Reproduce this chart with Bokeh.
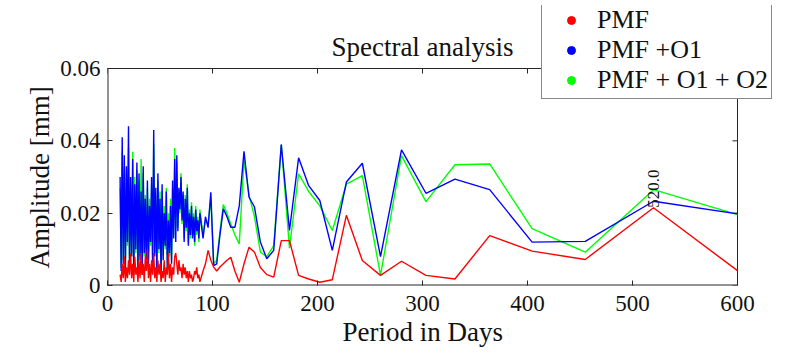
from math import pi, nan
from bokeh.plotting import figure
from bokeh.models import (Range1d, FixedTicker, Legend, LegendItem, Title,
                          CustomJSTickFormatter)
from bokeh.core.properties import value
from bokeh.embed import file_html
from bokeh.resources import INLINE

# ---------------- data ----------------
periods = [12, 13, 14, 15, 16, 17, 18, 19, 20, 21,
           22, 23, 24, 25, 26, 27, 28, 29, 30, 31,
           32, 33, 34, 35, 36, 37, 38, 39, 40, 41,
           42, 43, 44, 45, 46, 47, 48, 49, 50, 51,
           52, 53, 54, 55, 56, 57, 58, 59, 60, 61,
           62, 63, 64, 65, 66, 67, 68, 69, 70, 71,
           72, 73, 74, 75, 76, 77, 78, 79, 80, 81,
           82, 83, 84, 85, 86, 87, 88,
           91.0, 93.3, 95.8, 98.4, 101.1, 104.0, 107.1, 110.3, 113.8, 117.4,
           121.3, 125.5, 130.0, 134.8, 140.0, 145.6, 151.7, 158.3, 165.5, 173.3,
           182.0, 191.6, 202.2, 214.1, 227.5, 242.7, 260.0, 280.0, 303.3, 330.9,
           364.0, 404.4, 455.0, 520.0, 600.0]

amp_pmf = [0.003, 0.001, 0.006, 0.002, 0.008, 0.001, 0.005, 0.002, 0.007, 0.003,
           0.009, 0.002, 0.006, 0.001, 0.008, 0.003, 0.005, 0.001, 0.007, 0.002,
           0.009, 0.003, 0.006, 0.001, 0.008, 0.004, 0.010, 0.002, 0.006, 0.001,
           0.007, 0.003, 0.009, 0.002, 0.005, 0.001, 0.007, 0.003, 0.006, 0.001,
           0.004, 0.002, 0.007, 0.001, 0.005, 0.003, 0.009, 0.002, 0.006, 0.001,
           0.005, 0.003, 0.008, 0.009, 0.006, 0.003, 0.007, 0.004, 0.005, 0.002,
           0.006, 0.003, 0.005, 0.002, 0.004, 0.001, 0.004, 0.002, 0.003, 0.001,
           0.002, 0.004, 0.003, 0.005, 0.002, 0.003, 0.001,
           0.004, 0.006, 0.0097, 0.007, 0.0051, 0.004, 0.0051, 0.006, 0.007, 0.0078,
           0.004, 0.0009, 0.006, 0.0106, 0.0092, 0.005, 0.003, 0.0023, 0.0124, 0.0124,
           0.0028, 0.0018, 0.0009, 0.0016, 0.0194, 0.0069, 0.0028, 0.0067, 0.0028, 0.0018,
           0.0138, 0.0095, 0.0072, 0.0215, 0.0041]

amp_pmf_o1 = [0.030, 0.004, 0.041, 0.006, 0.036, 0.003, 0.033, 0.012, 0.044, 0.005,
              0.030, 0.008, 0.035, 0.003, 0.028, 0.010, 0.034, 0.004, 0.031, 0.007,
              0.026, 0.003, 0.033, 0.009, 0.024, 0.004, 0.029, 0.006, 0.022, 0.012,
              0.030, 0.005, 0.043, 0.008, 0.027, 0.004, 0.031, 0.010, 0.024, 0.003,
              0.028, 0.007, 0.020, 0.011, 0.026, 0.004, 0.018, 0.009, 0.022, 0.006,
              0.029, 0.013, 0.035, 0.012, 0.036, 0.015, 0.027, 0.021, 0.030, 0.018,
              0.026, 0.012, 0.024, 0.016, 0.027, 0.011, 0.020, 0.014, 0.022, 0.013,
              0.019, 0.012, 0.021, 0.015, 0.018, 0.013, 0.020,
              0.013, 0.019, 0.016, 0.0258, 0.0055, 0.006, 0.014, 0.0212, 0.019, 0.0161,
              0.0161, 0.022, 0.0371, 0.0244, 0.0217, 0.012, 0.0074, 0.0097, 0.039, 0.0152,
              0.0353, 0.0276, 0.0235, 0.0097, 0.0286, 0.0338, 0.0080, 0.0375, 0.0255, 0.0294,
              0.0265, 0.0120, 0.0122, 0.0233, 0.0198]

amp_pmf_o1_o2 = [0.027, 0.005, 0.037, 0.007, 0.033, 0.004, 0.031, 0.011, 0.038, 0.006,
                 0.028, 0.009, 0.037, 0.004, 0.030, 0.009, 0.032, 0.005, 0.029, 0.008,
                 0.035, 0.004, 0.031, 0.008, 0.025, 0.005, 0.027, 0.007, 0.024, 0.011,
                 0.028, 0.006, 0.039, 0.009, 0.025, 0.005, 0.029, 0.009, 0.026, 0.004,
                 0.026, 0.008, 0.022, 0.010, 0.027, 0.005, 0.020, 0.008, 0.024, 0.007,
                 0.027, 0.014, 0.038, 0.016, 0.034, 0.016, 0.025, 0.020, 0.031, 0.017,
                 0.025, 0.013, 0.025, 0.015, 0.028, 0.012, 0.021, 0.013, 0.023, 0.014,
                 0.020, 0.011, 0.022, 0.014, 0.019, 0.012, 0.021,
                 0.014, 0.018, 0.017, 0.024, 0.006, 0.007, 0.015, 0.0224, 0.020, 0.017,
                 0.014, 0.0115, 0.0346, 0.025, 0.019, 0.0092, 0.008, 0.011, 0.039, 0.0103,
                 0.0309, 0.026, 0.022, 0.0152, 0.028, 0.0304, 0.0028, 0.0359, 0.0232, 0.0334,
                 0.0336, 0.0157, 0.0092, 0.0265, 0.0196]

series_labels = ["PMF", "PMF +O1", "PMF + O1 + O2"]
series_colors = ["#ff0000", "#0000ff", "#00ff00"]
x_ticks = [0, 100, 200, 300, 400, 500, 600]
y_ticks = [0, 0.02, 0.04, 0.06]
peak_period = 520.0
title_text = "Spectral analysis"
xlabel_text = "Period in Days"
ylabel_text = "Amplitude [mm]"

assert len(periods) == len(amp_pmf) == len(amp_pmf_o1) == len(amp_pmf_o1_o2)

# ---------------- layout (page pixels) ----------------
W, H = 790, 354
AX_L, AX_R, AX_T, AX_B = 107, 737, 68, 285      # the visible axes box
FR_R, FR_T = 781, 5                              # drawing frame (room for legend)
TITLE_MID = 46                                   # vertical middle of the title
FONT = "Liberation Serif"
AX = "#262626"
TXT = "#111111"

x0, x1 = x_ticks[0], x_ticks[-1]
y0, y1 = y_ticks[0], y_ticks[-1]
px_per_x = (AX_R - AX_L) / (x1 - x0)
px_per_y = (AX_B - AX_T) / (y1 - y0)
x_hi = x0 + (FR_R - AX_L) / px_per_x
y_hi = y0 + (AX_B - FR_T) / px_per_y

p = figure(width=W, height=H, output_backend="svg", toolbar_location=None,
           x_range=Range1d(x0, x_hi), y_range=Range1d(y0, y_hi),
           min_border_left=AX_L, min_border_right=W - FR_R, min_border_top=FR_T,
           min_border_bottom=H - AX_B, background_fill_color="white",
           border_fill_color="white", outline_line_color=None)
p.xgrid.visible = False
p.ygrid.visible = False


def style_axis(ax, ticks):
    ax.ticker = FixedTicker(ticks=ticks)
    ax.major_tick_in = 5
    ax.major_tick_out = 0
    ax.minor_tick_in = 0
    ax.minor_tick_out = 0
    ax.axis_line_alpha = 0
    ax.major_tick_line_color = AX
    ax.major_label_text_font = FONT
    ax.major_label_text_color = TXT
    ax.major_label_text_font_size = "23px"


xa = p.xaxis[0]
ya = p.yaxis[0]
style_axis(xa, x_ticks)
style_axis(ya, y_ticks)
xa.major_label_standoff = 10
ya.major_label_standoff = 7
ya.formatter = CustomJSTickFormatter(code="return tick == 0 ? '0' : tick.toFixed(2);")

# axis labels as side titles so they can be centred on the visible axes box
xl = Title(text=xlabel_text, align="left", offset=235, standoff=2,
           text_font=FONT, text_font_size="27px", text_font_style="normal",
           text_color=TXT)
p.add_layout(xl, "below")
yl = Title(text=ylabel_text, align="left", offset=17, standoff=6,
           text_font=FONT, text_font_size="27px", text_font_style="normal",
           text_color=TXT)
p.add_layout(yl, "left")

# axes box (bottom/left edges sit on the frame border, so draw them thicker)
p.line([x0, x0, x1], [y1, y0, y0], line_color=AX, line_width=2)
p.line([x0, x1, x1], [y1, y1, y0], line_color=AX, line_width=1)
# inward ticks on top and right edges
tick_dx = 5 / px_per_x
tick_dy = 5 / px_per_y
p.segment(x0=x_ticks, y0=[y1] * len(x_ticks), x1=x_ticks, y1=[y1 - tick_dy] * len(x_ticks),
          line_color=AX, line_width=1)
p.segment(x0=[x1] * len(y_ticks), y0=y_ticks, x1=[x1 - tick_dx] * len(y_ticks), y1=y_ticks,
          line_color=AX, line_width=1)

# data lines: green at the back, blue, then red on top
p.line(periods, amp_pmf_o1_o2, line_color=series_colors[2], line_width=1.4)
p.line(periods, amp_pmf_o1, line_color=series_colors[1], line_width=1.4)
p.line(periods, amp_pmf, line_color=series_colors[0], line_width=1.4)

# title
p.text(x=[(x0 + x1) / 2], y=[y0 + (AX_B - TITLE_MID) / px_per_y], text=[title_text],
       text_font=value(FONT), text_font_size="27px", text_align="center",
       text_baseline="middle", text_color=TXT)

# peak annotation
peak_idx = periods.index(peak_period)
p.text(x=[peak_period], y=[amp_pmf[peak_idx]], text=[f"{peak_period:.1f}"],
       angle=pi / 2, text_font=value(FONT), text_font_size="17px",
       text_align="left", text_baseline="middle", text_color=TXT)

# legend with dot markers (renderers hold no visible point)
dots = [p.scatter(x=[nan], y=[nan], marker="circle", size=7, fill_color=c, line_color=c)
        for c in series_colors]
legend = Legend(items=[LegendItem(label=l, renderers=[r]) for l, r in zip(series_labels, dots)],
                location=(541 - AX_L, AX_B - 99), orientation="vertical",
                label_text_font=FONT, label_text_font_size="26px",
                label_text_color=TXT, label_text_baseline="middle",
                glyph_width=52, glyph_height=20, label_standoff=0,
                padding=3, spacing=0, margin=0,
                border_line_color="#111111", border_line_width=1.3,
                background_fill_color="white", background_fill_alpha=1.0)
p.add_layout(legend, "center")

open("out.html", "w").write(file_html(p, INLINE))
